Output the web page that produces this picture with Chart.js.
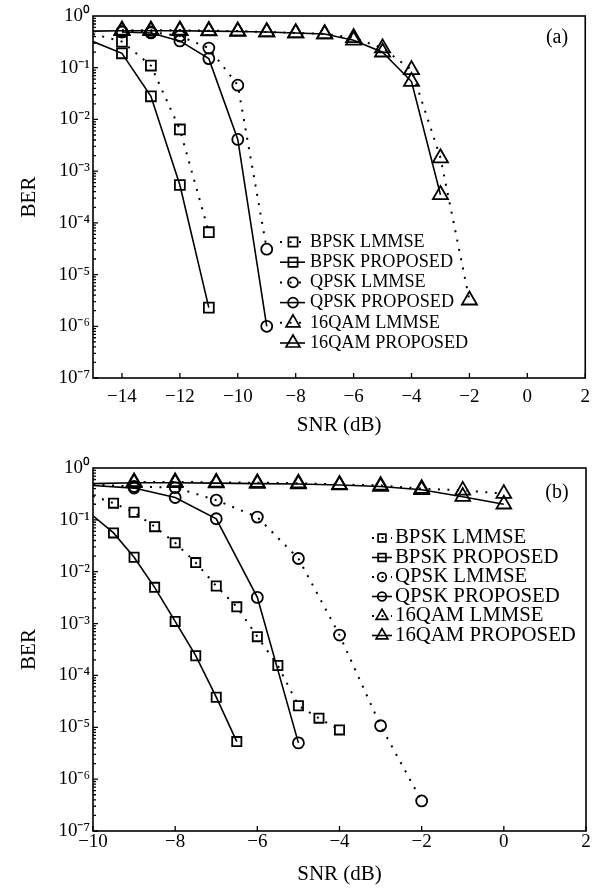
<!DOCTYPE html>
<html>
<head>
<meta charset="utf-8">
<script src="https://cdn.jsdelivr.net/npm/chart.js@4.4.1/dist/chart.umd.min.js"></script>
<style>
  html, body { margin: 0; padding: 0; background: #fff; }
  #wrap { position: relative; width: 598px; height: 889px; }
  canvas { position: absolute; left: 0; }
</style>
</head>
<body>
<div id="wrap">
  <canvas id="chartA" width="598" height="445" style="top:0"></canvas>
  <canvas id="chartB" width="598" height="444" style="top:445px"></canvas>
</div>
<script>
// ---- data, panel (a) ----
const snrA_bpsk = [-15, -14, -13, -12, -11];
const berA_bpskLmmse = [0.45, 0.32, 0.11, 0.0064, 6.6e-5];
const berA_bpskProp = [0.32, 0.19, 0.028, 5.4e-4, 2.3e-6];
const snrA_qpsk = [-14, -13, -12, -11, -10, -9];
const berA_qpskLmmse = [0.50, 0.49, 0.41, 0.24, 0.046, 3.1e-5];
const berA_qpskProp = [0.49, 0.47, 0.33, 0.15, 0.0041, 1.0e-6];
const snrA_qamLmmse = [-14, -13, -12, -11, -10, -9, -8, -7, -6, -5, -4, -3, -2];
const berA_qamLmmse = [0.53, 0.53, 0.53, 0.52, 0.51, 0.49, 0.47, 0.45, 0.38, 0.24, 0.091, 0.0018, 3.2e-6];
const snrA_qamProp = [-15, -14, -13, -12, -11, -10, -9, -8, -7, -6, -5, -4, -3];
const berA_qamProp = [0.51, 0.52, 0.52, 0.52, 0.51, 0.50, 0.49, 0.47, 0.45, 0.34, 0.20, 0.054, 3.5e-4];
const xTicksA = [-14, -12, -10, -8, -6, -4, -2, 0, 2];

// ---- data, panel (b) ----
const snrB_bpskLmmse = [-10, -9.5, -9, -8.5, -8, -7.5, -7, -6.5, -6, -5.5, -5, -4.5, -4];
const berB_bpskLmmse = [0.29, 0.21, 0.14, 0.074, 0.036, 0.015, 0.0053, 0.0021, 5.6e-4, 1.55e-4, 2.6e-5, 1.5e-5, 8.9e-6];
const snrB_bpskProp = [-10, -9.5, -9, -8.5, -8, -7.5, -7, -6.5];
const berB_bpskProp = [0.12, 0.056, 0.019, 0.005, 0.0011, 2.4e-4, 3.8e-5, 5.3e-6];
const snrB_qpskLmmse = [-10, -9, -8, -7, -6, -5, -4, -3, -2];
const berB_qpskLmmse = [0.48, 0.44, 0.42, 0.24, 0.113, 0.018, 6.0e-4, 1.07e-5, 3.8e-7];
const snrB_qpskProp = [-10, -9, -8, -7, -6, -5];
const berB_qpskProp = [0.46, 0.41, 0.27, 0.105, 0.0032, 5.0e-6];
const snrB_qamLmmse = [-9, -8, -7, -6, -5, -4, -3, -2, -1, 0];
const berB_qamLmmse = [0.54, 0.54, 0.53, 0.52, 0.51, 0.48, 0.46, 0.40, 0.37, 0.32];
const snrB_qamProp = [-10, -9, -8, -7, -6, -5, -4, -3, -2, -1, 0];
const berB_qamProp = [0.50, 0.52, 0.52, 0.51, 0.50, 0.49, 0.47, 0.44, 0.38, 0.28, 0.20];
const xTicksB = [-10, -8, -6, -4, -2, 0, 2];

// ---- shared ----
const seriesNames = ['BPSK LMMSE', 'BPSK PROPOSED', 'QPSK LMMSE', 'QPSK PROPOSED', '16QAM LMMSE', '16QAM PROPOSED'];
const yTickVals = [1e-7, 1e-6, 1e-5, 1e-4, 1e-3, 1e-2, 1e-1, 1];
const yTickLabels = ['10⁻⁷', '10⁻⁶', '10⁻⁵', '10⁻⁴', '10⁻³', '10⁻²', '10⁻¹', '10⁰'];

const SERIF = "'Liberation Serif', 'Times New Roman', serif";
const DOTS = [2, 7.5];

function pts(xs, ys) {
  return xs.map((x, i) => ({ x: x, y: ys[i] }));
}
function minus(v) {
  return v < 0 ? '\u2212' + Math.abs(v) : String(v);
}

function makeSets(list, xMin, sz) {
  const styles = ['rect', 'rect', 'circle', 'circle', 'triangle', 'triangle'];
  return list.map((pair, i) => ({
    label: seriesNames[i],
    data: pts(pair[0], pair[1]),
    borderColor: '#000',
    borderWidth: i % 2 === 0 ? 2 : 1.6,
    borderDash: i % 2 === 0 ? DOTS : [],
    pointStyle: styles[i],
    // no marker where the curve enters at the left frame
    pointRadius: c => (c.raw && c.raw.x <= xMin) ? 0 : sz[styles[i]],
    pointBorderWidth: 1.8,
    pointBorderColor: '#000',
    pointBackgroundColor: 'rgba(0,0,0,0)',
    tension: 0,
    fill: false
  }));
}

function drawMarker(ctx, style, x, y, r) {
  ctx.beginPath();
  if (style === 'rect') {
    const s = r * Math.SQRT1_2;
    ctx.rect(x - s, y - s, 2 * s, 2 * s);
  } else if (style === 'circle') {
    ctx.arc(x, y, r, 0, Math.PI * 2);
  } else {
    ctx.moveTo(x, y - r);
    ctx.lineTo(x + r * 0.866, y + r / 2);
    ctx.lineTo(x - r * 0.866, y + r / 2);
    ctx.closePath();
  }
  ctx.stroke();
}

// frame, inward ticks, panel tag and legend, drawn like the original figure
const paperFrame = {
  id: 'paperFrame',
  afterDraw(chart, args, o) {
    const { ctx, chartArea: a, scales: { x, y } } = chart;
    ctx.save();
    ctx.strokeStyle = '#000';
    ctx.lineWidth = 1.6;
    ctx.setLineDash([]);
    ctx.strokeRect(a.left, a.top, a.right - a.left, a.bottom - a.top);

    ctx.lineWidth = 1.3;
    ctx.beginPath();
    x.ticks.forEach(t => {
      const px = x.getPixelForValue(t.value);
      ctx.moveTo(px, a.bottom);
      ctx.lineTo(px, a.bottom - 5);
    });
    for (let e = -7; e < 0; e++) {
      for (let m = 1; m < 10; m++) {
        const py = y.getPixelForValue(m * Math.pow(10, e));
        ctx.moveTo(a.left, py);
        ctx.lineTo(a.left + (m === 1 ? 5 : 3), py);
      }
    }
    ctx.stroke();

    ctx.fillStyle = '#000';
    ctx.font = o.tagSize + 'px ' + SERIF;
    ctx.textAlign = 'center';
    ctx.textBaseline = 'middle';
    ctx.fillText(o.tag, o.tagX, o.tagY);

    // legend
    const L = o.legend;
    ctx.font = L.size + 'px ' + SERIF;
    ctx.textAlign = 'left';
    chart.data.datasets.forEach((ds, i) => {
      const ry = L.y0 + i * L.step;
      ctx.lineWidth = ds.borderWidth;
      ctx.setLineDash(ds.borderDash);
      ctx.beginPath();
      ctx.moveTo(L.x0, ry);
      ctx.lineTo(L.x1, ry);
      ctx.stroke();
      ctx.setLineDash([]);
      ctx.lineWidth = 1.7;
      drawMarker(ctx, ds.pointStyle, L.xm, ry, L.marker[ds.pointStyle]);
      ctx.fillText(ds.label, L.tx, ry);
    });
    ctx.restore();
  }
};

function makeChart(id, sets, xMin, xMax, xTicks, o) {
  return new Chart(document.getElementById(id), {
    type: 'line',
    data: { datasets: sets },
    plugins: [paperFrame],
    options: {
      responsive: false,
      animation: false,
      layout: { padding: { top: o.top, right: 12, left: 0, bottom: 0 } },
      plugins: {
        legend: { display: false },
        tooltip: { enabled: false },
        paperFrame: o.frame
      },
      scales: {
        x: {
          type: 'linear',
          min: xMin,
          max: xMax,
          afterBuildTicks: s => { s.ticks = xTicks.map(v => ({ value: v })); },
          afterFit: s => { s.height = o.xHeight; },
          grid: { display: false, drawTicks: false },
          border: { display: false },
          ticks: {
            color: '#000',
            font: { family: SERIF, size: 19 },
            padding: o.xPad,
            maxRotation: 0,
            autoSkip: false,
            callback: v => minus(v)
          },
          title: {
            display: true,
            text: 'SNR (dB)',
            color: '#000',
            font: { family: SERIF, size: 21 },
            padding: { top: 0, bottom: o.titlePad }
          }
        },
        y: {
          type: 'logarithmic',
          min: 1e-7,
          max: 1,
          afterBuildTicks: s => { s.ticks = yTickVals.map(v => ({ value: v, major: true })); },
          afterFit: s => { s.width = 93; },
          grid: { display: false, drawTicks: false },
          border: { display: false },
          ticks: {
            color: '#000',
            font: { family: SERIF, size: 19 },
            padding: 3,
            autoSkip: false,
            callback: (v, i) => yTickLabels[i]
          },
          title: {
            display: true,
            text: 'BER',
            color: '#000',
            font: { family: SERIF, size: 21 },
            padding: { top: 17, bottom: 0 }
          }
        }
      }
    }
  });
}

makeChart('chartA',
  makeSets([
    [snrA_bpsk, berA_bpskLmmse], [snrA_bpsk, berA_bpskProp],
    [snrA_qpsk, berA_qpskLmmse], [snrA_qpsk, berA_qpskProp],
    [snrA_qamLmmse, berA_qamLmmse], [snrA_qamProp, berA_qamProp]
  ], -15, { rect: 7, circle: 5.5, triangle: 8.7 }),
  -15, 2, xTicksA,
  {
    top: 16, xHeight: 67, xPad: 8, titlePad: 7,
    frame: {
      tag: '(a)', tagX: 557, tagY: 38, tagSize: 20,
      legend: { x0: 280, x1: 305, xm: 293, tx: 310, y0: 242, step: 20.2, size: 18.2,
                marker: { rect: 6.5, circle: 5, triangle: 8 } }
    }
  });

makeChart('chartB',
  makeSets([
    [snrB_bpskLmmse, berB_bpskLmmse], [snrB_bpskProp, berB_bpskProp],
    [snrB_qpskLmmse, berB_qpskLmmse], [snrB_qpskProp, berB_qpskProp],
    [snrB_qamLmmse, berB_qamLmmse], [snrB_qamProp, berB_qamProp]
  ], -10, { rect: 6.5, circle: 5.5, triangle: 8.5 }),
  -10, 2, xTicksB,
  {
    top: 23, xHeight: 58, xPad: 0, titlePad: 2,
    frame: {
      tag: '(b)', tagX: 557, tagY: 48, tagSize: 20,
      legend: { x0: 372, x1: 392, xm: 382, tx: 395, y0: 93, step: 19.5, size: 20.8,
                marker: { rect: 5.5, circle: 4.3, triangle: 6.8 } }
    }
  });
</script>
</body>
</html>
